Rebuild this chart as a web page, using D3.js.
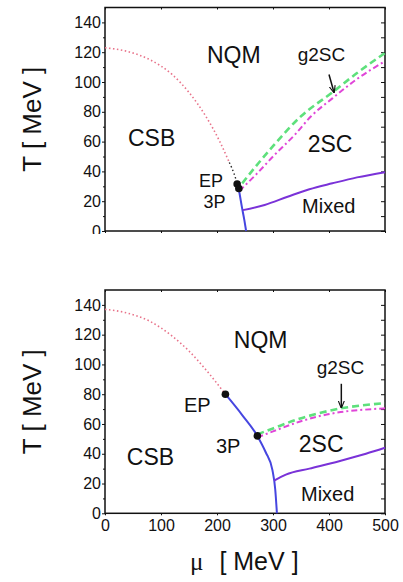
<!DOCTYPE html>
<html>
<head>
<meta charset="utf-8">
<script src="https://cdn.jsdelivr.net/npm/d3@7"></script>
<style>
  body { margin: 0; background: #fff; }
  svg { display: block; }
  text { font-family: "Liberation Sans", Arial, sans-serif; fill: #111; }
</style>
</head>
<body>
<script>
// phase boundaries, [mu, T] in MeV
const topCrossover = [[0,123],[40,120.5],[80,115],[120,105],[150,93],[180,77],[205,60],[222,46]];
const topCrossoverEnd = [[222,46],[230,39],[236,32]];
const topFirstOrder = [[239,28],[244,17],[249,7],[252,0]];
const topMixed = [[246,14],[285,17.5],[326,23],[365,28],[406,32],[450,36],[500,39.5]];
const topGreen = [[245,32],[275,46],[300,57],[350,77],[406,93],[450,106],[500,119.5]];
const topMagenta = [[240,27],[270,38],[300,50],[340,65],[368,77],[406,89],[450,102],[500,114]];
const topPoints = [[236,31.5],[239,28.5]];
const topArrow = [[400,105],[409,93]];

const botCrossover = [[0,137],[40,134.5],[80,129],[120,119],[150,109],[180,96.5],[215,80]];
const botFirstOrder = [[215,80],[245,66],[272,52],[287,41],[299,29],[304,16],[307,0]];
const botMixed = [[302,22],[323,26],[365,30],[418,35],[466,40],[500,44]];
const botGreen = [[272,53],[300,57],[347,63.5],[380,67],[421,70.5],[460,72.5],[500,74]];
const botMagenta = [[272,51],[300,55],[347,61.5],[380,65],[421,68],[460,69.5],[500,70.5]];
const botPoints = [[215,80],[272,52]];
const botArrow = [[422,87],[422,71]];

const xTicks = [0,100,200,300,400,500];
const yTicks = [0,20,40,60,80,100,120,140];

const topLabels = [
  {t:'NQM', mu:182, T:112.5, s:23}, {t:'CSB', mu:41, T:57, s:23},
  {t:'2SC', mu:362, T:53, s:23}, {t:'Mixed', mu:352, T:12, s:20},
  {t:'EP', mu:168, T:29.8, s:18}, {t:'3P', mu:176, T:15.6, s:18},
  {t:'g2SC', mu:344, T:114, s:19}
];
const botLabels = [
  {t:'NQM', mu:230, T:111, s:23}, {t:'CSB', mu:39, T:32.5, s:23},
  {t:'2SC', mu:346, T:41, s:23}, {t:'Mixed', mu:350, T:8, s:20},
  {t:'EP', mu:141, T:68, s:20}, {t:'3P', mu:198, T:40.5, s:20},
  {t:'g2SC', mu:378, T:93.5, s:19}
];

const W = 403, H = 582;
const svg = d3.select('body').append('svg').attr('width', W).attr('height', H);

svg.append('defs').append('marker')
  .attr('id', 'head').attr('viewBox', '0 0 10 10')
  .attr('refX', 9).attr('refY', 5)
  .attr('markerWidth', 5).attr('markerHeight', 5)
  .attr('orient', 'auto')
  .append('path').attr('d', 'M0,1L10,5L0,9').attr('fill', 'none')
  .attr('stroke', '#111').attr('stroke-width', 1.5);

svg.select('defs').append('clipPath').attr('id', 'cropTop')
  .append('rect').attr('x', 0).attr('y', 0).attr('width', W).attr('height', 234);

const x = d3.scaleLinear().domain([0, 500]).range([105, 385]);

function panel(g, y, data, showX) {
  const line = d3.line().x(d => x(d[0])).y(d => y(d[1])).curve(d3.curveMonotoneX);

  // axes
  const minor = d3.range(10, 150, 20);
  g.append('g').attr('transform', 'translate(105,0)')
    .call(d3.axisLeft(y).tickValues(yTicks).tickSize(3).tickPadding(1).tickFormat(d3.format('d')))
    .call(a => a.select('.domain').remove());
  g.append('g').attr('transform', 'translate(105,0)')
    .call(d3.axisLeft(y).tickValues(minor).tickSize(2).tickFormat(''))
    .call(a => a.select('.domain').remove());
  g.append('g').attr('transform', 'translate(385,0)')
    .call(d3.axisLeft(y).tickValues(d3.range(0, 150, 10)).tickSize(4).tickFormat(''))
    .call(a => a.select('.domain').remove());
  g.append('g').attr('transform', `translate(0,${y.range()[1]})`)
    .call(d3.axisBottom(x).tickValues(xTicks).tickSize(2).tickFormat(''))
    .call(a => a.select('.domain').remove());
  g.append('g').attr('transform', `translate(0,${y(0)})`)
    .call(d3.axisBottom(x).tickValues(xTicks).tickSize(2).tickPadding(4)
      .tickFormat(showX ? d3.format('d') : ''))
    .call(a => a.select('.domain').remove());
  g.selectAll('.tick text').style('font-size', '16px').attr('fill', '#222')
    .style('font-family', '"Liberation Sans", Arial, sans-serif');
  g.selectAll('.tick line').attr('stroke', '#111');

  g.append('rect')
    .attr('x', 105).attr('y', y.range()[1])
    .attr('width', 280).attr('height', y(0) - y.range()[1])
    .attr('fill', 'none').attr('stroke', '#111').attr('stroke-width', 1.5);

  // phase lines
  g.append('path').datum(data.crossover).attr('d', line)
    .attr('fill', 'none').attr('stroke', '#e8738a').attr('stroke-width', 1.6)
    .attr('stroke-dasharray', '1.5,2.5');
  if (data.crossoverEnd) {
    g.append('path').datum(data.crossoverEnd).attr('d', line)
      .attr('fill', 'none').attr('stroke', '#222').attr('stroke-width', 1.4)
      .attr('stroke-dasharray', '1.5,2.5');
  }
  g.append('path').datum(data.green).attr('d', line)
    .attr('fill', 'none').attr('stroke', '#5ee07c').attr('stroke-width', 2.6)
    .attr('stroke-dasharray', '7,4');
  g.append('path').datum(data.magenta).attr('d', line)
    .attr('fill', 'none').attr('stroke', '#e046d8').attr('stroke-width', 2)
    .attr('stroke-dasharray', '6,3,2,3');
  g.append('path').datum(data.firstOrder).attr('d', line)
    .attr('fill', 'none').attr('stroke', '#4646e0').attr('stroke-width', 2);
  g.append('path').datum(data.mixed).attr('d', line)
    .attr('fill', 'none').attr('stroke', '#7a32d8').attr('stroke-width', 2);

  g.selectAll('circle.pt').data(data.points).join('circle').attr('class', 'pt')
    .attr('cx', d => x(d[0])).attr('cy', d => y(d[1])).attr('r', 3.8).attr('fill', '#111');

  g.append('path').datum(data.arrow).attr('d', d3.line().x(d => x(d[0])).y(d => y(d[1])))
    .attr('fill', 'none').attr('stroke', '#111').attr('stroke-width', 1.5)
    .attr('marker-end', 'url(#head)');

  g.selectAll('text.lab').data(data.labels).join('text').attr('class', 'lab')
    .attr('x', d => x(d.mu)).attr('y', d => y(d.T))
    .style('font-size', d => d.s + 'px')
    .text(d => d.t);

  g.append('text')
    .attr('transform', `translate(41,${(y.range()[1] + y(0)) / 2}) rotate(-90)`)
    .attr('text-anchor', 'middle').style('font-size', '26px')
    .text('T [ MeV ]');
}

const yTop = d3.scaleLinear().domain([0, 150]).range([231, 7.5]);
const yBot = d3.scaleLinear().domain([0, 150]).range([513.3, 290]);

panel(svg.append('g').attr('clip-path', 'url(#cropTop)'), yTop, {
  crossover: topCrossover, crossoverEnd: topCrossoverEnd, firstOrder: topFirstOrder,
  mixed: topMixed, green: topGreen, magenta: topMagenta,
  points: topPoints, arrow: topArrow, labels: topLabels
}, false);

panel(svg.append('g'), yBot, {
  crossover: botCrossover, firstOrder: botFirstOrder,
  mixed: botMixed, green: botGreen, magenta: botMagenta,
  points: botPoints, arrow: botArrow, labels: botLabels
}, true);

const xt = svg.append('text').attr('x', 190).attr('y', 570).style('font-size', '25px');
xt.append('tspan').style('font-family', '"Liberation Serif", serif').text('μ');
xt.append('tspan').attr('dx', 16).text('[ MeV ]');
</script>
</body>
</html>
